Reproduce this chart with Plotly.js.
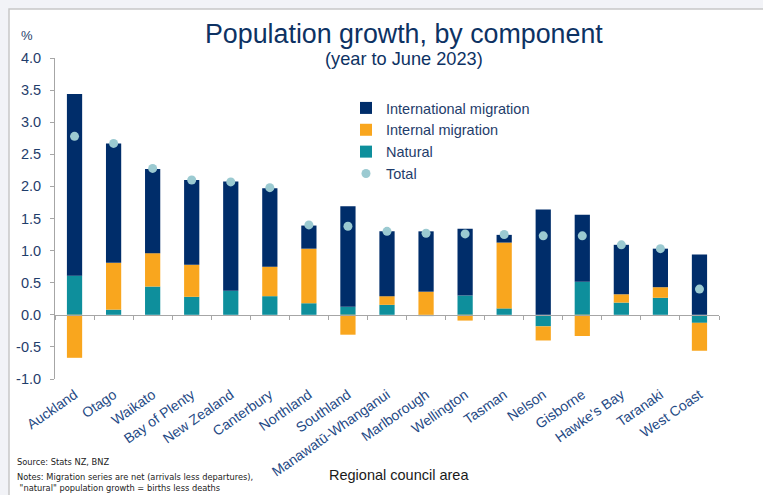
<!DOCTYPE html>
<html>
<head>
<meta charset="utf-8">
<script src="https://cdn.plot.ly/plotly-3.0.1.min.js"></script>
<style>html,body{margin:0;padding:0;background:#F2F3F7;}#chart{width:763px;height:495px;}</style>
</head>
<body>
<div id="chart"></div>
<script>
const regions = ["Auckland","Otago","Waikato","Bay of Plenty","New Zealand","Canterbury","Northland","Southland","Manawatū-Whanganui","Marlborough","Wellington","Tasman","Nelson","Gisborne","Hawke's Bay","Taranaki","West Coast"];
const natural = [0.61,0.08,0.44,0.28,0.375,0.29,0.18,0.125,0.155,-0.02,0.30,0.10,-0.18,0.515,0.19,0.265,-0.125];
const internalMig = [-0.67,0.73,0.52,0.50,0,0.46,0.85,-0.31,0.135,0.36,-0.09,1.025,-0.22,-0.33,0.13,0.165,-0.435];
const internationalMig = [2.83,1.86,1.31,1.32,1.70,1.22,0.36,1.565,1.01,0.94,1.04,0.12,1.64,1.045,0.77,0.60,0.94];
const total = [2.78,2.67,2.28,2.10,2.07,1.98,1.40,1.38,1.30,1.27,1.26,1.25,1.23,1.23,1.09,1.03,0.40];
const yTicks = [-1,-0.5,0,0.5,1,1.5,2,2.5,3,3.5,4];

const navy = "#002D6A", orange = "#F9A61E", teal = "#0E8F9C", dot = "#9BCAD1";
const txt = "#1F3D6B";
const font = "Liberation Sans, Arial, sans-serif";
const smallFont = "Liberation Sans Narrow, DejaVu Sans Condensed, sans-serif";

const traces = [
  {type:"bar", name:"Natural", x:regions, y:natural, marker:{color:teal}, legendrank:3},
  {type:"bar", name:"Internal migration", x:regions, y:internalMig, marker:{color:orange}, legendrank:2},
  {type:"bar", name:"International migration", x:regions, y:internationalMig, marker:{color:navy}, legendrank:1},
  {type:"scatter", mode:"markers", name:"Total", x:regions, y:total, marker:{color:dot, size:9}, legendrank:4},
  {type:"scatter", mode:"markers", x:regions, y:regions.map(()=>null), xaxis:"x2", showlegend:false, hoverinfo:"skip"}
];

const W = 664, H = 321, L = 55, T = 58;
const px = v => (v - L) / W;
const py = v => (T + H - v) / H;

const layout = {
  width:763, height:495,
  margin:{l:55, r:44, t:58, b:116},
  paper_bgcolor:"#F2F3F7",
  plot_bgcolor:"rgba(0,0,0,0)",
  barmode:"relative",
  bargap:0.61,
  font:{family:font, color:txt},
  showlegend:true,
  legend:{x:px(346), y:py(92), xanchor:"left", yanchor:"top", bgcolor:"rgba(0,0,0,0)",
          font:{size:14.5, color:txt, family:font}, traceorder:"normal"},
  xaxis:{type:"category", categoryarray:regions, categoryorder:"array", range:[-0.5,16.5],
         showline:false, ticks:"", tickangle:-35, tickfont:{size:14, color:"#1F4A85", family:font},
         ticklabelstandoff:4, showgrid:false, zeroline:false, fixedrange:true},
  xaxis2:{type:"category", categoryarray:regions, categoryorder:"array", range:[-0.5,16.5],
          overlaying:"x", anchor:"free", position:0.2, side:"bottom",
          showline:true, linecolor:"#A6A6A6", linewidth:1, ticks:"outside", tickson:"boundaries",
          ticklen:4, tickcolor:"#A6A6A6", showticklabels:false, showgrid:false, zeroline:false},
  yaxis:{range:[-1,4], tickvals:yTicks, ticktext:yTicks.map(v=>v.toFixed(1)),
         showline:true, linecolor:"#A6A6A6", linewidth:1, ticks:"outside", ticklen:4, tickcolor:"#A6A6A6",
         tickfont:{size:14.5, color:txt, family:font}, showgrid:false, zeroline:false, ticklabelstandoff:6},
  shapes:[
    {type:"rect", xref:"paper", yref:"paper", x0:px(9), x1:px(775), y0:py(505), y1:py(9),
     line:{color:"#C8C8C8", width:1.5}, fillcolor:"#FFFFFF", layer:"below"}
  ],
  annotations:[
    {text:"Population growth, by component", xref:"paper", yref:"paper", x:px(404), y:py(34),
     xanchor:"center", yanchor:"middle", showarrow:false, font:{size:26.8, color:"#0D3263", family:font}},
    {text:"(year to June 2023)", xref:"paper", yref:"paper", x:px(404), y:py(59),
     xanchor:"center", yanchor:"middle", showarrow:false, font:{size:18.2, color:"#0D3263", family:font}},
    {text:"%", xref:"paper", yref:"paper", x:px(27), y:py(35),
     xanchor:"center", yanchor:"middle", showarrow:false, font:{size:13, color:txt, family:font}},
    {text:"Regional council area", xref:"paper", yref:"paper", x:px(399), y:py(475),
     xanchor:"center", yanchor:"middle", showarrow:false, font:{size:14.5, color:"#1a1a1a", family:font}},
    {text:"Source: Stats NZ, BNZ", xref:"paper", yref:"paper", x:px(15), y:py(461),
     xanchor:"left", yanchor:"middle", showarrow:false, font:{size:9.2, color:"#222", family:smallFont}},
    {text:"Notes: Migration series are net (arrivals less departures),", xref:"paper", yref:"paper", x:px(15), y:py(476.5),
     xanchor:"left", yanchor:"middle", showarrow:false, font:{size:9.2, color:"#222", family:smallFont}},
    {text:"&nbsp;\"natural\" population growth = births less deaths", xref:"paper", yref:"paper", x:px(15), y:py(487),
     xanchor:"left", yanchor:"middle", showarrow:false, font:{size:9.2, color:"#222", family:smallFont}}
  ]
};

Plotly.newPlot("chart", traces, layout, {displayModeBar:false, staticPlot:true});
</script>
</body>
</html>
